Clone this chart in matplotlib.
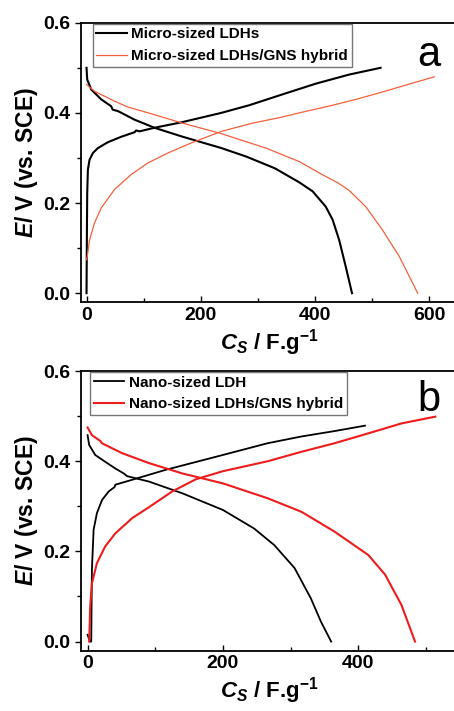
import numpy as np
import matplotlib
matplotlib.use("Agg")
import matplotlib.pyplot as plt
from matplotlib.ticker import MultipleLocator

plt.rcParams["font.family"] = ["Liberation Sans", "DejaVu Sans"]
plt.rcParams["mathtext.fontset"] = "custom"
plt.rcParams["mathtext.it"] = "Liberation Sans:italic:bold"
plt.rcParams["mathtext.rm"] = "Liberation Sans:bold"
plt.rcParams["mathtext.bf"] = "Liberation Sans:bold"

# ---- panel a: micro-sized LDHs (charge / discharge, E vs Cs) ----
a_ldh_chg_x = [0, 0.6, 1.2, 2.4, 5.3, 11.2, 20, 37.5, 60.8, 84, 87, 92.8, 119, 166, 236,
               285, 343, 402, 460, 515]
a_ldh_chg_y = [0, 0.12, 0.222, 0.274, 0.296, 0.311, 0.322, 0.335, 0.347, 0.357, 0.361, 0.359,
               0.367, 0.379, 0.400, 0.417, 0.441, 0.465, 0.485, 0.500]
a_ldh_dis_x = [0, 1.2, 8.2, 25.7, 43, 46, 55, 84, 119, 166, 236, 280, 330, 372.5, 396, 419, 431,
               442.5, 454, 465]
a_ldh_dis_y = [0.500, 0.474, 0.452, 0.430, 0.415, 0.407, 0.404, 0.385, 0.367, 0.348, 0.322,
               0.303, 0.277, 0.246, 0.226, 0.192, 0.163, 0.118, 0.059, 0]
a_gns_chg_x = [0, 1.2, 5.3, 14, 25.7, 49, 78, 107.5, 142.5, 183, 236, 290, 340, 372.5, 431,
               472, 520, 560, 609]
a_gns_chg_y = [0.074, 0.081, 0.118, 0.156, 0.189, 0.230, 0.263, 0.289, 0.311, 0.333, 0.359,
               0.377, 0.390, 0.400, 0.417, 0.430, 0.447, 0.462, 0.480]
a_gns_dis_x = [0, 14, 49, 72.5, 119, 166, 236, 314, 372.5, 413, 440, 460, 489, 518, 548, 580]
a_gns_dis_y = [0.463, 0.448, 0.426, 0.413, 0.396, 0.378, 0.354, 0.322, 0.292, 0.263, 0.245,
               0.228, 0.192, 0.141, 0.081, 0]

# ---- panel b: nano-sized LDHs ----
b_ldh_chg_x = [0, 3.5, 5.4, 6.4, 8.9, 13.8, 21.3, 31.2, 40, 41, 66, 115.4, 200, 266, 316, 365, 410]
b_ldh_chg_y = [0.015, 0, 0, 0.159, 0.248, 0.285, 0.314, 0.333, 0.343, 0.348, 0.359, 0.381,
               0.414, 0.440, 0.455, 0.467, 0.479]
b_ldh_dis_x = [0, 2.4, 11.3, 26, 41, 53.5, 58.4, 90.7, 140, 200, 246, 276, 306, 330, 345, 360]
b_ldh_dis_y = [0.458, 0.436, 0.414, 0.399, 0.384, 0.373, 0.367, 0.355, 0.329, 0.292, 0.251,
               0.214, 0.163, 0.096, 0.044, 0]
b_gns_chg_x = [2.4, 3.9, 6.4, 13.8, 26, 41, 66, 90.7, 125, 160, 200, 266, 316, 365, 415, 464, 514]
b_gns_chg_y = [0, 0.078, 0.129, 0.174, 0.211, 0.240, 0.274, 0.298, 0.333, 0.360, 0.378, 0.400,
               0.421, 0.440, 0.462, 0.484, 0.499]
b_gns_dis_x = [0, 6.4, 18.8, 21.3, 51, 90.7, 140, 200, 266, 316, 365, 415, 440, 464, 484]
b_gns_dis_y = [0.475, 0.458, 0.445, 0.440, 0.418, 0.396, 0.373, 0.351, 0.318, 0.288, 0.244,
               0.192, 0.148, 0.081, 0]

orange = "#f4603c"
red = "#ee1c1c"

fig = plt.figure(figsize=(4.54, 7.11), dpi=100)
ax1 = fig.add_axes([0.178, 0.575, 0.83, 0.393])
ax2 = fig.add_axes([0.178, 0.085, 0.83, 0.393])


def style(ax, xmax):
    ax.set_ylim(-0.02, 0.6)
    ax.set_xlim(-10, xmax)
    ax.xaxis.set_major_locator(MultipleLocator(200))
    ax.xaxis.set_minor_locator(MultipleLocator(100))
    ax.yaxis.set_major_locator(MultipleLocator(0.2))
    ax.yaxis.set_minor_locator(MultipleLocator(0.1))
    ax.tick_params(axis="x", which="both", direction="in", labelsize=14)
    ax.tick_params(axis="y", which="both", direction="out", labelsize=14)
    ax.tick_params(which="major", length=4, width=1)
    ax.tick_params(which="minor", length=3, width=1)
    for lab in ax.get_xticklabels() + ax.get_yticklabels():
        lab.set_fontweight("bold")
    ax.yaxis.set_major_formatter(plt.FuncFormatter(lambda v, p: f"{v:.1f}"))
    for s in ax.spines.values():
        s.set_linewidth(1.3)
    ax.set_ylabel(r"$E$/ V (vs. SCE)", fontsize=16.5, fontweight="bold", labelpad=2.5)
    ax.set_xlabel(r"$C_S$ / F.g$^{\mathbf{-1}}$", fontsize=16, fontweight="bold", labelpad=2)


ax1.plot(a_ldh_chg_x, a_ldh_chg_y, color="black", lw=1.5, label="Micro-sized LDHs")
ax1.plot(a_ldh_dis_x, a_ldh_dis_y, color="black", lw=1.5)
ax1.plot(a_gns_chg_x, a_gns_chg_y, color=orange, lw=0.9, label="Micro-sized LDHs/GNS hybrid")
ax1.plot(a_gns_dis_x, a_gns_dis_y, color=orange, lw=0.9)
style(ax1, 650)
ax1.text(0.955, 0.885, "a", transform=ax1.transAxes, fontsize=30, ha="right", va="center")

ax2.plot(b_ldh_chg_x, b_ldh_chg_y, color="black", lw=1.3, label="Nano-sized LDH")
ax2.plot(b_ldh_dis_x, b_ldh_dis_y, color="black", lw=1.3)
ax2.plot(b_gns_chg_x, b_gns_chg_y, color=red, lw=1.5, label="Nano-sized LDHs/GNS hybrid")
ax2.plot(b_gns_dis_x, b_gns_dis_y, color=red, lw=1.5)
style(ax2, 547)
ax2.text(0.955, 0.895, "b", transform=ax2.transAxes, fontsize=30, ha="right", va="center")

for ax, dx in ((ax1, 0.029), (ax2, 0.022)):
    leg = ax.legend(loc="upper left", bbox_to_anchor=(dx, 1.0), fancybox=False,
                    prop={"weight": "bold", "size": 11}, handlelength=2.0,
                    borderaxespad=0.05, labelspacing=0.5, handletextpad=0.3,
                    borderpad=0.25)
    leg.get_frame().set_edgecolor("#555555")
    leg.get_frame().set_linewidth(1.0)

fig.savefig("out.png", dpi=100)
